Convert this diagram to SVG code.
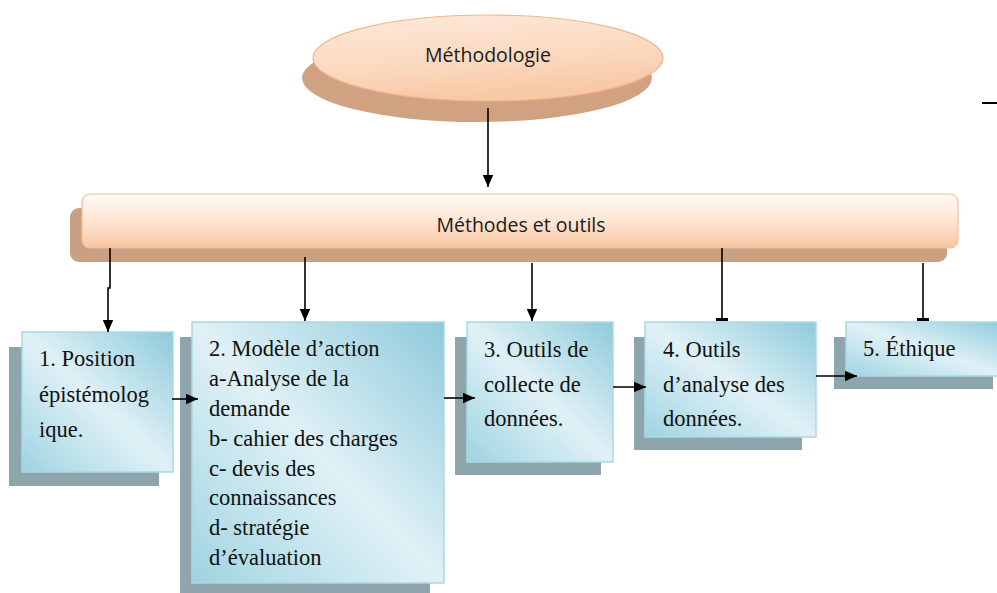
<svg xmlns="http://www.w3.org/2000/svg" width="997" height="593" viewBox="0 0 997 593">
  <style>
    .sans { font-family: "Open Sans", "Liberation Sans", sans-serif; fill: #1a1a1a; }
    .serif { font-family: "Liberation Serif", "Times New Roman", serif; font-size: 22.5px; fill: #111; }
    .box { fill: url(#blueGrad); stroke: #a9d9e5; stroke-width: 1.5; }
    .boxShadow { fill: #8fa5ad; }
    .conn { fill: none; stroke: #000; stroke-width: 1.6; }
  </style>
  <defs>
    <linearGradient id="peachBar" x1="0" y1="0" x2="0" y2="1">
      <stop offset="0" stop-color="#fffaf6"/>
      <stop offset="0.55" stop-color="#fde3cf"/>
      <stop offset="1" stop-color="#f8c6a0"/>
    </linearGradient>
    <linearGradient id="peachEll" x1="0" y1="0" x2="0.3" y2="1">
      <stop offset="0" stop-color="#fdeadb"/>
      <stop offset="0.6" stop-color="#fbd9bf"/>
      <stop offset="1" stop-color="#f8c9a5"/>
    </linearGradient>
    <linearGradient id="blueGrad" x1="1" y1="0" x2="0" y2="1">
      <stop offset="0" stop-color="#8ecadb"/>
      <stop offset="0.5" stop-color="#e0f1f6"/>
      <stop offset="0.85" stop-color="#b3dde8"/>
      <stop offset="1" stop-color="#9ed2e0"/>
    </linearGradient>
    <marker id="arrow" markerUnits="userSpaceOnUse" markerWidth="13" markerHeight="12" viewBox="0 0 13 12" refX="12.5" refY="6" orient="auto">
      <path d="M0,0.5 L12.5,6 L0,11.5 Z" fill="#000"/>
    </marker>
    <marker id="tee" markerUnits="userSpaceOnUse" markerWidth="4" markerHeight="12" viewBox="0 0 4 12" refX="3" refY="6" orient="auto">
      <rect x="0" y="0" width="3" height="12" fill="#000"/>
    </marker>
  </defs>

  <!-- Top node -->
  <g id="node-methodologie">
    <ellipse cx="477" cy="78" rx="175" ry="44" fill="#d0a282"/>
    <ellipse cx="488" cy="58" rx="175" ry="43" fill="url(#peachEll)" stroke="#f3b58a" stroke-width="1.2"/>
    <text class="sans" x="488" y="62" font-size="19.5" text-anchor="middle">Méthodologie</text>
  </g>

  <!-- Bar -->
  <g id="node-methodes">
    <rect x="70" y="208" width="877" height="54" rx="9" fill="#c9a082"/>
    <rect x="82" y="194" width="876" height="54" rx="8" fill="url(#peachBar)" stroke="#f5bd96" stroke-width="1.2"/>
    <text class="sans" x="521" y="232" font-size="19.5" text-anchor="middle">Méthodes et outils</text>
  </g>

  <!-- Box 1 -->
  <g id="node-1">
    <rect class="boxShadow" x="9" y="347" width="150" height="139"/>
    <rect class="box" x="22" y="332" width="151" height="140"/>
    <text class="serif">
      <tspan x="39" y="366">1. Position</tspan>
      <tspan x="39" y="401.5">épistémolog</tspan>
      <tspan x="39" y="437">ique.</tspan>
    </text>
  </g>

  <!-- Box 2 -->
  <g id="node-2">
    <rect class="boxShadow" x="180" y="337" width="250" height="256"/>
    <rect class="box" x="192" y="322" width="252" height="261"/>
    <text class="serif">
      <tspan x="209" y="356">2. Modèle d’action</tspan>
      <tspan x="209" y="386">a-Analyse de la</tspan>
      <tspan x="209" y="416">demande</tspan>
      <tspan x="209" y="446">b- cahier des charges</tspan>
      <tspan x="209" y="476">c- devis des</tspan>
      <tspan x="209" y="505">connaissances</tspan>
      <tspan x="209" y="535">d- stratégie</tspan>
      <tspan x="209" y="565">d’évaluation</tspan>
    </text>
  </g>

  <!-- Box 3 -->
  <g id="node-3">
    <rect class="boxShadow" x="455" y="337" width="146" height="138"/>
    <rect class="box" x="467" y="322" width="146" height="140"/>
    <text class="serif">
      <tspan x="484" y="357">3. Outils de</tspan>
      <tspan x="484" y="391.5">collecte de</tspan>
      <tspan x="484" y="426">données.</tspan>
    </text>
  </g>

  <!-- Box 4 -->
  <g id="node-4">
    <rect class="boxShadow" x="634" y="337" width="168" height="113"/>
    <rect class="box" x="645" y="322" width="171" height="115"/>
    <text class="serif">
      <tspan x="663" y="357">4. Outils</tspan>
      <tspan x="663" y="391.5">d’analyse des</tspan>
      <tspan x="663" y="426">données.</tspan>
    </text>
  </g>

  <!-- Box 5 -->
  <g id="node-5">
    <rect class="boxShadow" x="834" y="337" width="159" height="52"/>
    <rect class="box" x="846" y="322" width="160" height="54"/>
    <text class="serif" x="863" y="356">5. Éthique</text>
  </g>

  <!-- Connectors -->
  <g id="connectors">
    <path class="conn" d="M488,108 V187" marker-end="url(#arrow)"/>
    <path class="conn" d="M110,248 V288 H108 V332" marker-end="url(#arrow)"/>
    <path class="conn" d="M305,257 V321" marker-end="url(#arrow)"/>
    <path class="conn" d="M532,263 V321" marker-end="url(#arrow)"/>
    <path class="conn" d="M722,248 V321" marker-end="url(#tee)"/>
    <path class="conn" d="M923,263 V321" marker-end="url(#tee)"/>
    <path class="conn" d="M172,399 H198" marker-end="url(#arrow)"/>
    <path class="conn" d="M444,398 H475" marker-end="url(#arrow)"/>
    <path class="conn" d="M613,387 H646" marker-end="url(#arrow)"/>
    <path class="conn" d="M816,376 H857" marker-end="url(#arrow)"/>
    <path d="M982,103 H997" stroke="#000" stroke-width="2"/>
  </g>
</svg>
